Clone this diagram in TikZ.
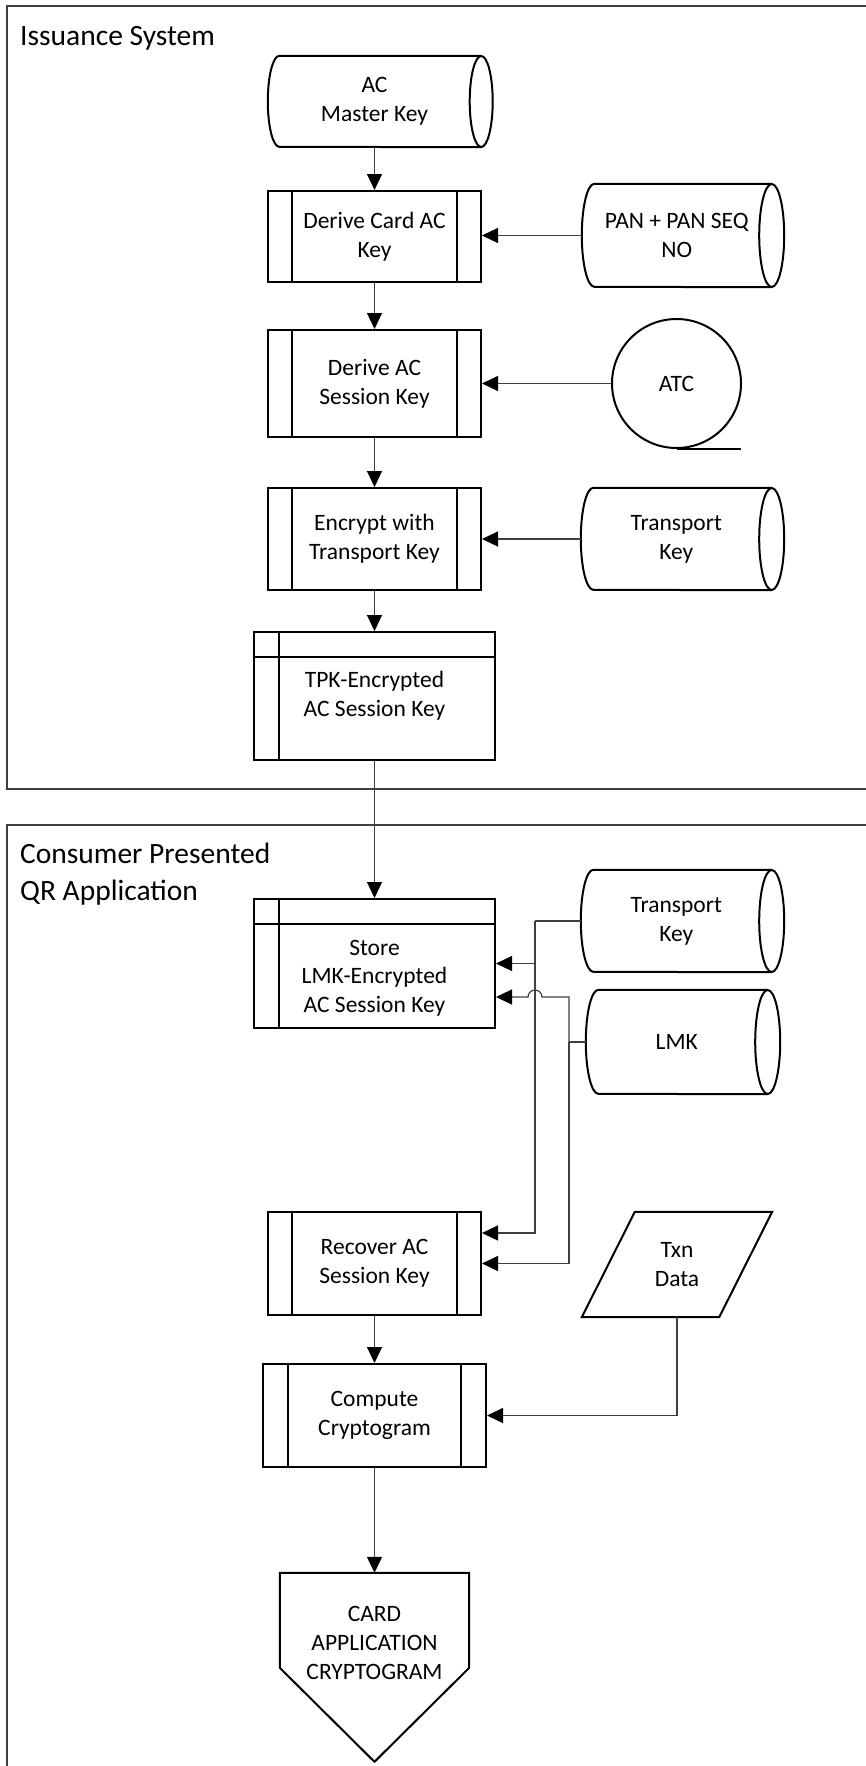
\documentclass[tikz,border=0pt]{standalone}
\usepackage{fontspec}
\setmainfont{Carlito}
\usetikzlibrary{arrows.meta}
\newcommand\predefl[2]{\draw[innerl] ([xshift=#2]#1.north west) -- ([xshift=#2]#1.south west) ([xshift=-#2]#1.north east) -- ([xshift=-#2]#1.south east);}
\newcommand\dasl[3]{\draw[outl] (#1.north east) -- ([xshift=#2]#1.north west) arc[start angle=90, end angle=270, x radius=#2, y radius=#3] -- (#1.south east);
  \draw[outl] (#1.east) ellipse[x radius=#2, y radius=#3];}
\newcommand\intstl[1]{\draw[innerl] ([yshift=-26pt]#1.north west) -- ([yshift=-26pt]#1.north east) ([xshift=26pt]#1.north west) -- ([xshift=26pt]#1.south west);}
\begin{document}
\begin{tikzpicture}[x=1pt,y=-1pt,
  txt/.style={font=\fontsize{23.5}{28.7}\selectfont, align=center, inner sep=0pt},
  title/.style={font=\fontsize{29.5}{36.5}\selectfont, align=left, inner sep=0pt},
  outl/.style={line width=2pt, draw=black},
  innerl/.style={line width=1.8pt, draw=black},
  frame/.style={line width=2pt, draw=black!75},
  conn/.style={line width=1.2pt, draw=black!75},
  arr/.style={conn, -{Triangle[length=16pt,width=15pt,color=black]}},
  procbox/.style={txt, outl, rectangle, minimum width=213pt, minimum height=#1},
  storebox/.style={txt, outl, rectangle, minimum width=241pt, minimum height=#1},
]
\useasboundingbox (0,0) rectangle (866,1766);
% frames
\draw[frame] (868,6) -- (7,6) -- (7,789) -- (868,789);
\draw[frame] (868,825) -- (7,825) -- (7,1768);
\node[title, anchor=base west] (iss) at (20,46) {Issuance System};
\node[title, anchor=north west] (cpq) at (20,843) {Consumer Presented\\QR Application};

% nodes
\node[txt, minimum width=213pt, minimum height=91pt] (acmk) at (374.5,101.5) {AC\\Master Key};
\dasl{acmk}{11.5pt}{45.5pt}
\node[procbox=91pt] (dcak) at (374.5,236.5) {Derive Card AC\\Key};
\predefl{dcak}{25pt}
\node[txt, minimum width=189.5pt, minimum height=103pt] (pan) at (676.75,235.5) {PAN + PAN SEQ\\NO};
\dasl{pan}{12.5pt}{51.5pt}
\node[procbox=107pt] (dacs) at (374.5,383.5) {Derive AC\\Session Key};
\predefl{dacs}{25pt}
\node[txt, circle, outl, minimum size=129pt] (atc) at (676.5,383.5) {ATC};
\draw[outl] (atc.south) -- ([xshift=64.5pt]atc.south);
\node[procbox=102pt] (enc) at (374.5,539) {Encrypt with\\Transport Key};
\predefl{enc}{25pt}
\node[txt, minimum width=190.5pt, minimum height=102pt] (tk1) at (676.25,539) {Transport\\Key};
\dasl{tk1}{12.5pt}{51pt}
\node[storebox=128pt] (tpk) at (374.5,696) {TPK-Encrypted\\AC Session Key};
\intstl{tpk}
\node[storebox=129pt, label={[txt, yshift=-14.5pt]center:Store\\LMK-Encrypted\\AC Session Key}] (store) at (374.5,963.5) {};
\intstl{store}
\node[txt, minimum width=190.5pt, minimum height=102pt] (tk2) at (676.25,921) {Transport\\Key};
\dasl{tk2}{12.5pt}{51pt}
\node[txt, minimum width=181.5pt, minimum height=104pt] (lmk) at (676.75,1042) {LMK};
\dasl{lmk}{12.5pt}{52pt}
\node[procbox=103pt] (rec) at (374.5,1263.5) {Recover AC\\Session Key};
\predefl{rec}{25pt}
\node[txt, minimum width=137pt, minimum height=105pt] (txn) at (677,1264.5) {Txn\\Data};
\draw[outl] ([xshift=26.5pt]txn.north west) -- ([xshift=26.5pt]txn.north east) -- ([xshift=-26.5pt]txn.south east) -- ([xshift=-26.5pt]txn.south west) -- cycle;
\node[txt, outl, rectangle, minimum width=223pt, minimum height=103pt] (comp) at (374.5,1415.5) {Compute\\Cryptogram};
\predefl{comp}{26pt}
\node[txt, minimum width=189pt, minimum height=140pt] (card) at (374.5,1643) {CARD\\APPLICATION\\CRYPTOGRAM};
\draw[outl] (card.north west) -- (card.north east) -- ([yshift=-95pt]card.north east) -- ([yshift=-189pt]card.north) -- ([yshift=-95pt]card.north west) -- cycle;

% connectors
\draw[arr] (acmk.south) -- (dcak.north);
\draw[arr] (pan.west) -- (pan.west -| dcak.east);
\draw[arr] (dcak.south) -- (dacs.north);
\draw[arr] (atc.west) -- (dacs.east);
\draw[arr] (dacs.south) -- (enc.north);
\draw[arr] (tk1.west) -- (enc.east);
\draw[arr] (enc.south) -- (tpk.north);
\draw[arr] (tpk.south) -- (store.north);
\coordinate (tkbus) at (535,921);
\coordinate (lmkbus) at (569,1042);
\coordinate (s2) at ([yshift=-33.5pt]store.east);
\coordinate (jmp) at (tkbus |- s2);
\draw[conn] (tk2.west) -- (tkbus);
\draw[arr] (tkbus) |- ([yshift=30.5pt]rec.east);
\draw[arr] (tkbus |- store.east) -- (store.east);
\draw[conn] (lmk.west) -- (lmkbus);
\draw[arr] (lmkbus) |- (rec.east);
\draw[arr] (lmkbus) |- ([xshift=7pt]jmp) arc[start angle=0, end angle=180, radius=7pt] -- (s2);
\draw[arr] (rec.south) -- (comp.north);
\draw[arr] (txn.south) |- (comp.east);
\draw[arr] (comp.south) -- (card.north);
\end{tikzpicture}
\end{document}
